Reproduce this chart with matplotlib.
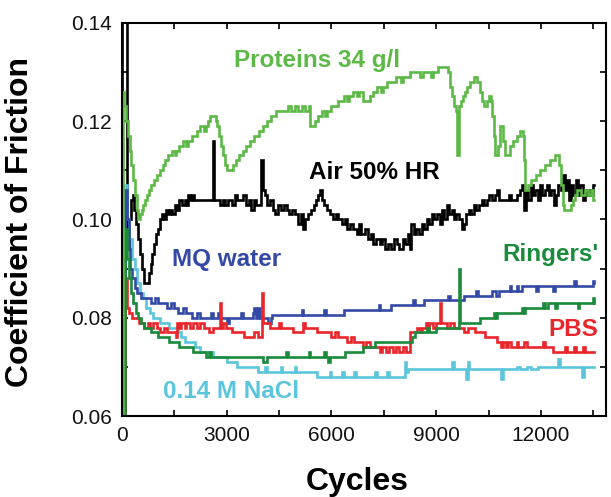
import matplotlib
matplotlib.use("Agg")
import matplotlib.pyplot as plt
from matplotlib.ticker import FixedLocator, FormatStrFormatter

plt.rcParams['font.family'] = ['Liberation Sans', 'DejaVu Sans']

# ---- friction traces (cycles, coefficient of friction) ----
air_cycles = [0, 20, 110, 150, 200, 260, 310, 360, 420, 470, 520, 580, 640, 730, 780, 830, 880, 930,
              980, 1040, 1100, 1150, 1200, 1260, 1320, 1380, 1450, 1520, 1580, 1650, 1720, 1800, 1860,
              1900, 1960, 2020, 2080, 2150, 2250, 2350, 2450, 2560, 2600, 2640, 2720, 2800, 2900, 2960,
              3050, 3150, 3230, 3300, 3400, 3480, 3560, 3640, 3700, 3780, 3850, 3940, 3980, 4040, 4100,
              4160, 4250, 4320, 4400, 4480, 4560, 4640, 4720, 4800, 4880, 4960, 5050, 5120, 5180, 5250,
              5340, 5420, 5500, 5570, 5620, 5680, 5740, 5800, 5880, 5960, 6040, 6120, 6200, 6300, 6380,
              6460, 6540, 6620, 6720, 6800, 6860, 6950, 7050, 7130, 7200, 7280, 7380, 7460, 7540, 7620,
              7700, 7800, 7880, 7950, 8040, 8110, 8180, 8240, 8280, 8360, 8430, 8500, 8580, 8660, 8740,
              8800, 8880, 8950, 9020, 9100, 9160, 9230, 9300, 9370, 9440, 9500, 9580, 9660, 9740, 9800,
              9860, 9940, 10000, 10080, 10140, 10220, 10300, 10380, 10450, 10520, 10600, 10680, 10740,
              10800, 10900, 11000, 11080, 11150, 11250, 11320, 11400, 11460, 11520, 11580, 11640, 11700,
              11760, 11830, 11900, 11960, 12030, 12100, 12170, 12240, 12300, 12370, 12430, 12500, 12560,
              12630, 12690, 12740, 12800, 12860, 12920, 12990, 13060, 13130, 13200, 13260, 13330, 13400,
              13460, 13500, 13520]
air_cof = [0.060, 0.150, 0.150, 0.094, 0.100, 0.104, 0.105, 0.102, 0.099, 0.096, 0.093, 0.090, 0.087,
           0.087, 0.089, 0.091, 0.093, 0.095, 0.097, 0.098, 0.100, 0.101, 0.100, 0.102, 0.101, 0.102,
           0.101, 0.103, 0.102, 0.104, 0.103, 0.104, 0.103, 0.105, 0.104, 0.105, 0.104, 0.104, 0.104,
           0.104, 0.104, 0.104, 0.116, 0.104, 0.104, 0.103, 0.104, 0.103, 0.104, 0.103, 0.105, 0.104,
           0.104, 0.105, 0.103, 0.104, 0.102, 0.104, 0.103, 0.103, 0.112, 0.106, 0.105, 0.103, 0.104,
           0.102, 0.101, 0.103, 0.102, 0.103, 0.102, 0.101, 0.102, 0.101, 0.099, 0.101, 0.098, 0.100,
           0.101, 0.102, 0.103, 0.104, 0.105, 0.106, 0.104, 0.103, 0.102, 0.101, 0.100, 0.101, 0.100,
           0.099, 0.100, 0.098, 0.099, 0.098, 0.097, 0.099, 0.097, 0.098, 0.096, 0.097, 0.095, 0.096,
           0.095, 0.096, 0.094, 0.095, 0.094, 0.096, 0.095, 0.094, 0.096, 0.095, 0.097, 0.094, 0.099,
           0.097, 0.098, 0.097, 0.099, 0.098, 0.100, 0.099, 0.101, 0.100, 0.101, 0.099, 0.102, 0.100,
           0.103, 0.101, 0.102, 0.100, 0.101, 0.100, 0.098, 0.099, 0.101, 0.102, 0.101, 0.103, 0.102,
           0.103, 0.104, 0.103, 0.104, 0.105, 0.104, 0.105, 0.106, 0.104, 0.104, 0.104, 0.105, 0.104,
           0.104, 0.105, 0.106, 0.107, 0.102, 0.106, 0.104, 0.107, 0.105, 0.106, 0.104, 0.107, 0.105,
           0.106, 0.107, 0.105, 0.106, 0.103, 0.105, 0.107, 0.106, 0.109, 0.106, 0.108, 0.104, 0.107,
           0.105, 0.108, 0.105, 0.107, 0.104, 0.106, 0.105, 0.106, 0.105, 0.107, 0.107]

proteins_cycles = [0, 30, 80, 130, 180, 230, 280, 330, 380, 430, 470, 520, 570, 620, 680, 730, 790,
                   850, 930, 1010, 1090, 1170, 1250, 1330, 1430, 1520, 1560, 1650, 1760, 1850, 1890,
                   2000, 2150, 2250, 2350, 2400, 2470, 2540, 2710, 2740, 2790, 2840, 2890, 2950, 3000,
                   3190, 3280, 3370, 3460, 3560, 3680, 3800, 3920, 4040, 4160, 4280, 4420, 4600, 4760,
                   4850, 4950, 5050, 5150, 5250, 5350, 5400, 5520, 5620, 5720, 5820, 5870, 5980, 6200,
                   6350, 6450, 6500, 6620, 6720, 6800, 6900, 7100, 7200, 7300, 7420, 7480, 7600, 7850,
                   8000, 8050, 8250, 8550, 8620, 8850, 8920, 9050, 9350, 9400, 9450, 9500, 9560, 9600,
                   9640, 9700, 9760, 9820, 9880, 9980, 10080, 10180, 10250, 10300, 10360, 10460, 10520,
                   10560, 10600, 10650, 10690, 10760, 10830, 10920, 10980, 11120, 11200, 11300, 11400,
                   11480, 11520, 11550, 11620, 11720, 11850, 11980, 12100, 12250, 12400, 12520, 12570,
                   12620, 12660, 12860, 12920, 12970, 13030, 13150, 13250, 13350, 13420, 13480, 13520]
proteins_cof = [0.060, 0.126, 0.123, 0.120, 0.117, 0.114, 0.111, 0.108, 0.105, 0.102, 0.100, 0.101,
                0.102, 0.103, 0.104, 0.105, 0.106, 0.107, 0.108, 0.109, 0.110, 0.111, 0.112, 0.113,
                0.114, 0.113, 0.114, 0.115, 0.116, 0.115, 0.116, 0.117, 0.118, 0.119, 0.118, 0.119,
                0.120, 0.121, 0.120, 0.119, 0.117, 0.115, 0.113, 0.111, 0.110, 0.111, 0.112, 0.113,
                0.114, 0.115, 0.116, 0.117, 0.118, 0.119, 0.120, 0.121, 0.122, 0.122, 0.123, 0.122,
                0.123, 0.122, 0.123, 0.122, 0.123, 0.119, 0.120, 0.121, 0.122, 0.121, 0.122, 0.123,
                0.124, 0.125, 0.124, 0.125, 0.126, 0.125, 0.126, 0.124, 0.125, 0.126, 0.127, 0.126,
                0.127, 0.128, 0.129, 0.128, 0.129, 0.130, 0.129, 0.130, 0.129, 0.130, 0.131, 0.130,
                0.127, 0.125, 0.123, 0.122, 0.113, 0.123, 0.124, 0.125, 0.126, 0.127, 0.128, 0.129,
                0.128, 0.126, 0.124, 0.123, 0.124, 0.125, 0.124, 0.121, 0.117, 0.113, 0.115, 0.119,
                0.116, 0.113, 0.115, 0.116, 0.117, 0.118, 0.117, 0.112, 0.106, 0.107, 0.108, 0.109,
                0.110, 0.111, 0.112, 0.113, 0.111, 0.107, 0.103, 0.102, 0.103, 0.104, 0.105, 0.106,
                0.105, 0.106, 0.105, 0.106, 0.104, 0.104]

mq_cycles = [0, 60, 100, 150, 200, 250, 300, 370, 450, 550, 700, 850, 950, 1050, 1200, 1300, 1400,
             1500, 1600, 1750, 1850, 2000, 2150, 2250, 2550, 2620, 2760, 2800, 3000, 3060, 3400, 3460,
             3760, 3800, 3850, 3900, 3960, 4200, 4260, 4300, 5150, 5200, 5800, 5850, 6350, 7350, 7400,
             7700, 8350, 8400, 8650, 9350, 9400, 9800, 10150, 10200, 10600, 10700, 10800, 11100, 11150,
             11300, 11350, 11450, 11850, 11900, 12350, 12400, 12950, 13000, 13480, 13520]
mq_cof = [0.060, 0.060, 0.106, 0.100, 0.094, 0.090, 0.088, 0.086, 0.085, 0.084, 0.084, 0.083, 0.084,
          0.083, 0.083, 0.082, 0.083, 0.082, 0.081, 0.082, 0.081, 0.080, 0.081, 0.080, 0.081, 0.080,
          0.081, 0.080, 0.079, 0.080, 0.081, 0.080, 0.081, 0.082, 0.080, 0.082, 0.080, 0.079, 0.080,
          0.0805, 0.0815, 0.0805, 0.0815, 0.0805, 0.0815, 0.0825, 0.0815, 0.0825, 0.0835, 0.0825,
          0.0835, 0.0845, 0.0835, 0.0845, 0.0855, 0.0845, 0.0855, 0.0845, 0.0855, 0.0865, 0.0855,
          0.0865, 0.0855, 0.0865, 0.0855, 0.0865, 0.0855, 0.0865, 0.0875, 0.0865, 0.0875, 0.0870]

pbs_cycles = [0, 70, 90, 140, 200, 300, 500, 650, 750, 820, 900, 1000, 1100, 1200, 1300, 1550, 1580,
              1650, 1700, 1800, 1850, 1950, 2050, 2150, 2250, 2350, 2500, 2600, 2800, 2830, 2900, 2980,
              3150, 3500, 3800, 3900, 4020, 4050, 4250, 4500, 4550, 4900, 5200, 5250, 5600, 6000, 6100,
              6200, 6450, 6550, 6650, 6900, 7000, 7100, 7400, 7450, 7550, 7650, 7750, 7850, 7950, 8050,
              8150, 8250, 8450, 8550, 8600, 8700, 8750, 8800, 8900, 9000, 9100, 9140, 9300, 9400, 9500,
              9800, 9900, 10100, 10400, 10750, 10850, 10900, 11000, 11050, 11150, 11300, 11350, 11500,
              11600, 12050, 12100, 12350, 12700, 12750, 12950, 13000, 13200, 13250, 13520]
pbs_cof = [0.060, 0.060, 0.088, 0.082, 0.081, 0.080, 0.079, 0.078, 0.079, 0.078, 0.079, 0.078, 0.077,
           0.078, 0.077, 0.076, 0.079, 0.078, 0.079, 0.078, 0.079, 0.078, 0.079, 0.078, 0.079, 0.078,
           0.077, 0.078, 0.083, 0.078, 0.079, 0.078, 0.077, 0.076, 0.077, 0.076, 0.085, 0.079, 0.078,
           0.079, 0.078, 0.077, 0.079, 0.078, 0.077, 0.076, 0.077, 0.076, 0.075, 0.076, 0.075, 0.074,
           0.075, 0.074, 0.073, 0.074, 0.073, 0.074, 0.073, 0.074, 0.073, 0.074, 0.073, 0.077, 0.078,
           0.077, 0.078, 0.079, 0.078, 0.079, 0.078, 0.079, 0.083, 0.079, 0.078, 0.079, 0.078, 0.077,
           0.078, 0.077, 0.076, 0.075, 0.074, 0.075, 0.074, 0.075, 0.074, 0.075, 0.074, 0.075, 0.074,
           0.075, 0.074, 0.073, 0.074, 0.073, 0.074, 0.073, 0.074, 0.073, 0.073]

ringers_cycles = [0, 60, 90, 150, 200, 260, 330, 400, 480, 560, 650, 850, 1050, 1350, 1650, 2050, 2400,
                  2500, 2550, 4050, 4150, 4700, 4750, 5350, 5400, 5800, 5850, 5900, 5960, 6400, 6900,
                  7250, 8300, 8400, 8750, 8800, 9000, 9650, 9690, 10250, 10650, 10700, 10750, 11450,
                  11500, 11550, 12050, 12100, 12200, 12400, 12450, 13050, 13100, 13480, 13520]
ringers_cof = [0.060, 0.060, 0.098, 0.092, 0.088, 0.085, 0.083, 0.081, 0.080, 0.079, 0.078, 0.077,
               0.076, 0.075, 0.074, 0.073, 0.072, 0.073, 0.072, 0.071, 0.072, 0.073, 0.072, 0.073,
               0.072, 0.073, 0.072, 0.071, 0.072, 0.073, 0.074, 0.075, 0.076, 0.077, 0.078, 0.077,
               0.078, 0.090, 0.079, 0.080, 0.081, 0.080, 0.081, 0.082, 0.081, 0.082, 0.083, 0.082,
               0.083, 0.082, 0.083, 0.082, 0.083, 0.084, 0.083]

nacl_cycles = [0, 60, 80, 150, 220, 300, 370, 450, 520, 600, 700, 800, 900, 1100, 1350, 1600, 1700,
               1800, 2100, 2250, 2600, 3000, 3300, 3900, 4100, 4150, 4550, 4600, 4950, 5000, 5600,
               5950, 6000, 6300, 6350, 6650, 6700, 7250, 7300, 7600, 7650, 8100, 8150, 8200, 9450,
               9500, 9550, 9850, 9900, 9950, 10000, 10850, 10900, 10950, 11300, 11400, 11600, 11700,
               11900, 12500, 12550, 12600, 13180, 13220, 13260, 13520]
nacl_cof = [0.060, 0.060, 0.107, 0.100, 0.096, 0.092, 0.090, 0.087, 0.085, 0.084, 0.082, 0.081, 0.080,
            0.079, 0.078, 0.077, 0.076, 0.075, 0.074, 0.073, 0.072, 0.071, 0.070, 0.069, 0.070, 0.069,
            0.070, 0.069, 0.070, 0.069, 0.068, 0.069, 0.068, 0.069, 0.068, 0.069, 0.068, 0.069, 0.068,
            0.069, 0.068, 0.071, 0.069, 0.0695, 0.071, 0.0695, 0.0695, 0.0675, 0.071, 0.0695,
            0.0695, 0.0675, 0.0695, 0.0695, 0.070, 0.0695, 0.070, 0.0695, 0.070, 0.0715, 0.070,
            0.070, 0.068, 0.070, 0.070, 0.070]

x_ticks = [0, 3000, 6000, 9000, 12000]
x_minor = [1500, 4500, 7500, 10500, 13500]
y_ticks = [0.06, 0.08, 0.10, 0.12, 0.14]
y_minor = [0.07, 0.09, 0.11, 0.13]

# ---- figure ----
W, H = 611, 497
fig = plt.figure(figsize=(W / 100, H / 100), dpi=100)
ax = fig.add_axes([121.7 / W, 1 - 416 / H, (606 - 121.7) / W, (416 - 22.7) / H])

series = [
    (air_cycles, air_cof, 'black'),
    (nacl_cycles, nacl_cof, '#5bc5dc'),
    (mq_cycles, mq_cof, '#3449a5'),
    (pbs_cycles, pbs_cof, '#e8262b'),
    (ringers_cycles, ringers_cof, '#1a8a3c'),
    (proteins_cycles, proteins_cof, '#5cb946'),
]
for cyc, cof, col in series:
    ax.plot(cyc, cof, color=col, lw=1.9, drawstyle='steps-post', solid_joinstyle='miter')

ax.set_xlim(0, 13860)
ax.set_ylim(0.06, 0.14)
ax.xaxis.set_major_locator(FixedLocator(x_ticks))
ax.xaxis.set_minor_locator(FixedLocator(x_minor))
ax.yaxis.set_major_locator(FixedLocator(y_ticks))
ax.yaxis.set_minor_locator(FixedLocator(y_minor))
ax.yaxis.set_major_formatter(FormatStrFormatter('%.2f'))
ax.tick_params(which='both', direction='in', top=True, right=True, length=4.5, width=1.2,
               colors='black')
ax.tick_params(which='major', labelsize=15, pad=7, labelcolor='#111111')
for s in ax.spines.values():
    s.set_linewidth(1.5)


def px_text(x, y, s, color, size=17.5, **kw):
    fig.text(x / W, 1 - y / H, s, color=color, fontsize=size, fontweight='bold',
             ha='center', va='baseline', **kw)


px_text(317.5, 66.5, 'Proteins 34 g/l', '#5cb946')
px_text(374, 179, 'Air 50% HR', 'black')
px_text(227, 266, 'MQ water', '#3449a5')
px_text(550, 261.5, "Ringers'", '#1a8a3c')
px_text(573, 336, 'PBS', '#e8262b')
px_text(231, 398, '0.14 M NaCl', '#5bc5dc')

px_text(357, 490, 'Cycles', 'black', size=23)
fig.text(20 / W, 1 - 222 / H, 'Coefficient of Friction', rotation=90, fontsize=23,
         fontweight='bold', ha='center', va='center')

fig.savefig('out.png', dpi=100)
